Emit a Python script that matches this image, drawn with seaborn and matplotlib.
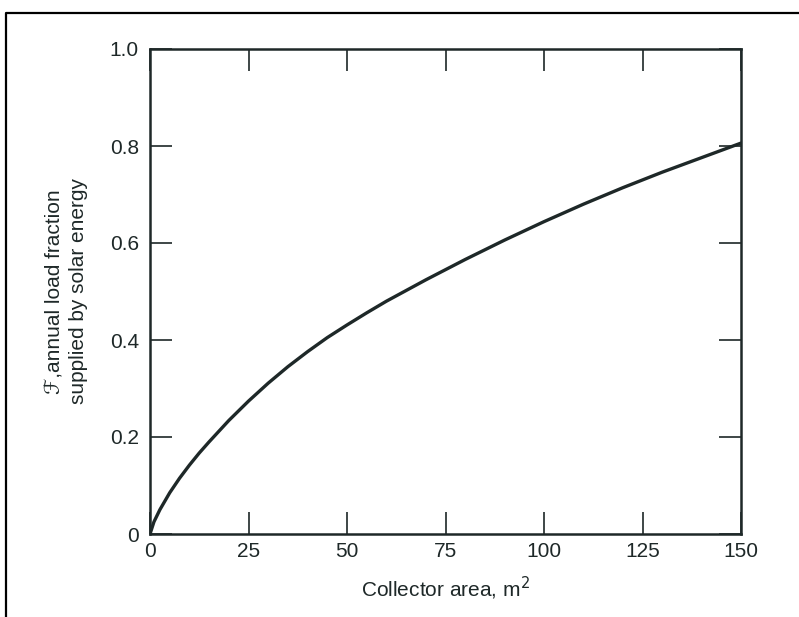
import matplotlib
matplotlib.use("Agg")
import matplotlib.pyplot as plt
import seaborn as sns
import pandas as pd
from matplotlib.lines import Line2D

# Data
collector_area = [0, 1, 2.5, 5, 7.5, 10, 12.5, 15, 20, 25, 30, 35, 40, 45, 50, 55, 60, 65, 70, 75,
                  80, 85, 90, 95, 100, 105, 110, 115, 120, 125, 130, 135, 140, 145, 150]
load_fraction = [0, 0.025, 0.05, 0.085, 0.115, 0.142, 0.167, 0.19, 0.234, 0.274, 0.311, 0.345, 0.376,
                 0.405, 0.431, 0.456, 0.480, 0.502, 0.524, 0.545, 0.566, 0.586, 0.606, 0.625, 0.644,
                 0.662, 0.68, 0.697, 0.714, 0.730, 0.746, 0.761, 0.776, 0.791, 0.806]
x_ticks = [0, 25, 50, 75, 100, 125, 150]
y_ticks = [0, 0.2, 0.4, 0.6, 0.8, 1.0]
y_tick_labels = ["0", "0.2", "0.4", "0.6", "0.8", "1.0"]

sns.set_style("white")
plt.rcParams['font.family'] = ['Liberation Sans', 'DejaVu Sans']

ink = "#1e2828"
df = pd.DataFrame({"area": collector_area, "F": load_fraction})

fig = plt.figure(figsize=(7.99, 6.17), dpi=100)
ax = fig.add_axes([150/799, 1 - 534/617, (741 - 150)/799, (534 - 49)/617])
sns.lineplot(data=df, x="area", y="F", ax=ax, color=ink, linewidth=2.4)

ax.set_xlim(0, 150)
ax.set_ylim(0, 1.0)
ax.set_xticks(x_ticks)
ax.set_xticklabels([str(t) for t in x_ticks])
ax.set_yticks(y_ticks)
ax.set_yticklabels(y_tick_labels)
ax.tick_params(axis="both", which="both", direction="in", length=15.5, width=1.2,
               colors=ink, labelsize=15, top=True, right=True, bottom=True, left=True,
               labeltop=False, labelright=False)
ax.tick_params(axis="x", pad=6)
ax.tick_params(axis="y", pad=8)
for s in ax.spines.values():
    s.set_visible(True)
    s.set_color(ink)
    s.set_linewidth(1.8)

ax.set_xlabel("Collector area, m$^2$", fontsize=15, color=ink, labelpad=10)
ax.set_ylabel("\u2131,annual load fraction\nsupplied by solar energy", fontsize=15,
              color=ink, labelpad=16, linespacing=1.25)

# outer frame of the scanned figure
fig.add_artist(Line2D([6/799, 6/799, 1.0], [0.0, 1 - 13/617, 1 - 13/617],
                      transform=fig.transFigure, color="black", linewidth=1.6))

fig.savefig("out.png", dpi=100, facecolor="white")
